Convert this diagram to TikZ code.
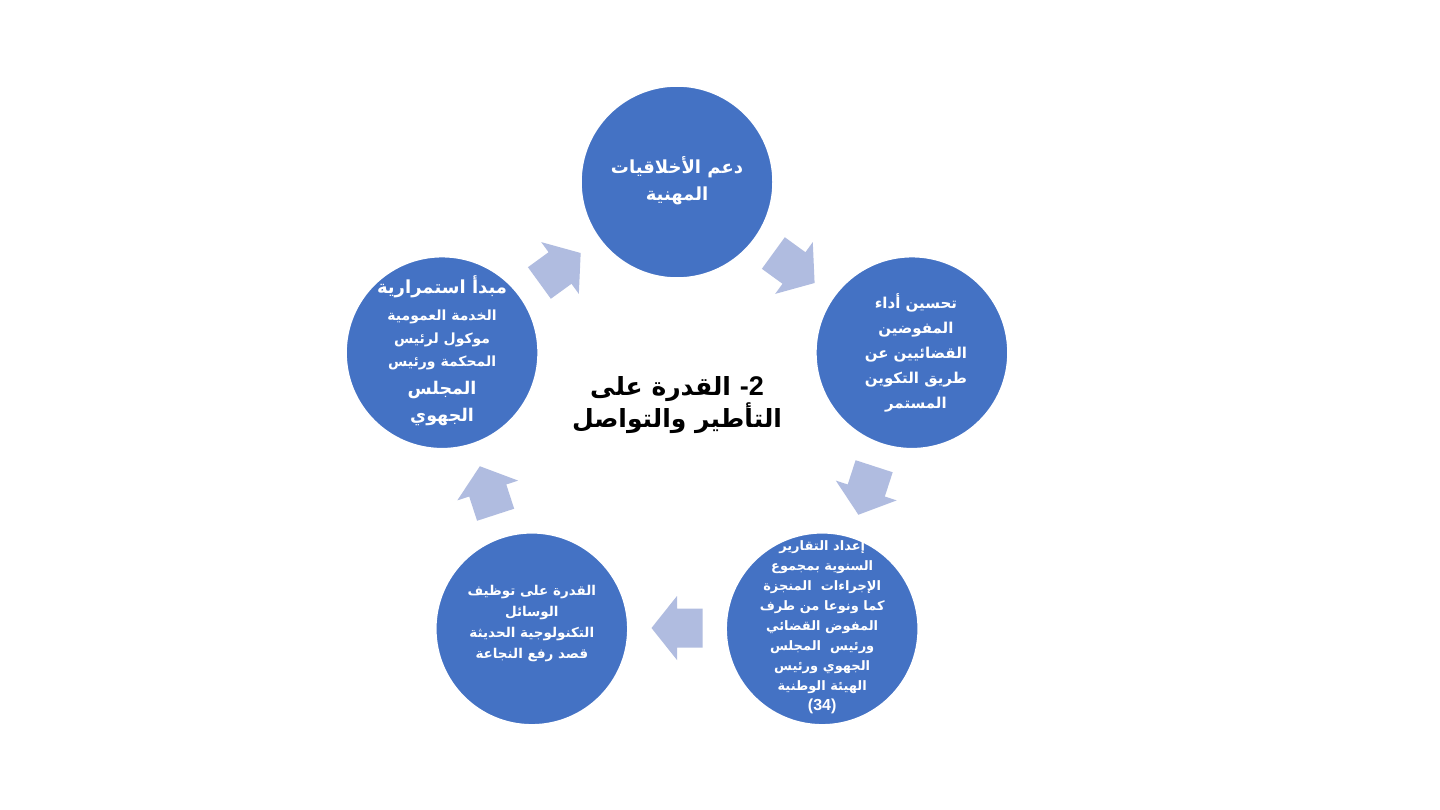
\documentclass[tikz,border=0pt]{standalone}
\usepackage{fontspec}
\TeXXeTstate=1
\setmainfont{Liberation Sans}
\newfontfamily\arfont[Script=Arabic]{DejaVu Sans}
\newfontfamily\latfont{Liberation Sans}
\newcommand\artxt[1]{\beginR #1\endR}
\definecolor{circblue}{HTML}{4472C4}
\definecolor{arrowc}{RGB}{176,188,224}
\begin{document}
\begin{tikzpicture}[x=1pt,y=1pt,
  circ/.style={circle, fill=circblue, draw=white, line width=1.5pt, minimum size=192pt, inner sep=0pt},
  ctext/.style={text=white, align=center, inner sep=0pt},
  cycarrow/.style={fill=arrowc},
]
\useasboundingbox[fill=white] (0,0) rectangle (1440,-810);
\begin{scope}[shift={(677,-429)}]
\node[circ] (c1) at (90:247) {};
\node[circ] (c2) at (18:247) {};
\node[circ] (c3) at (-54:247) {};
\node[circ] (c4) at (-126:247) {};
\node[circ] (c5) at (162:247) {};
\foreach \a in {54,-18,-90,-162,126}{
  \fill[cycarrow, shift={(\a:199)}, rotate={\a-90}]
    (-25.5,-19.5) -- (0,-19.5) -- (0,-32) -- (25.5,0) -- (0,32) -- (0,19.5) -- (-25.5,19.5) -- cycle;
}
\end{scope}
% texts
\node[ctext, font={\arfont\bfseries\fontsize{18}{27}\selectfont}] (t1) at ([yshift=1pt]c1)
  {\artxt{دعم الأخلاقيات}\\\artxt{المهنية}};
\node[ctext, font={\arfont\bfseries\fontsize{15}{25}\selectfont}] (t2) at ([xshift=4pt]c2)
  {\artxt{تحسين أداء}\\\artxt{المفوضين}\\\artxt{القضائيين عن}\\\artxt{طريق التكوين}\\\artxt{المستمر}};
\node[ctext, font={\arfont\bfseries\fontsize{13}{20}\selectfont}] (t3) at ([yshift=2pt]c3)
  {\artxt{إعداد التقارير}\\\artxt{السنوية بمجموع}\\\artxt{الإجراءات\ \ المنجزة}\\\artxt{كما ونوعا من طرف}\\\artxt{المفوض القضائي}\\\artxt{ورئيس\ \ المجلس}\\\artxt{الجهوي ورئيس}\\\artxt{الهيئة الوطنية}\\{\latfont\bfseries\fontsize{16}{20}\selectfont(34)}};
\node[ctext, font={\arfont\bfseries\fontsize{13.5}{21}\selectfont}] (t4) at ([yshift=5pt]c4)
  {\artxt{القدرة على توظيف}\\\artxt{الوسائل}\\\artxt{التكنولوجية الحديثة}\\\artxt{قصد رفع النجاعة}};
\node[ctext, font={\arfont\bfseries\fontsize{14}{22.5}\selectfont}] (t5) at ([yshift=2pt]c5)
  {{\fontsize{18}{22}\selectfont\artxt{مبدأ استمرارية}}\\[4.5pt]\artxt{الخدمة العمومية}\\[0.5pt]\artxt{موكول لرئيس}\\\artxt{المحكمة ورئيس}\\[5.5pt]{\fontsize{17.5}{22}\selectfont\artxt{المجلس}}\\[4.5pt]{\fontsize{17.5}{22}\selectfont\artxt{الجهوي}}};
\node[align=center, inner sep=0pt, font={\arfont\bfseries\fontsize{25}{32}\selectfont}] (title) at (677,-405)
  {\beginR\beginL{\latfont\bfseries\fontsize{27}{32}\selectfont -2}\endL{} القدرة على\endR\\\artxt{التأطير والتواصل}};
\end{tikzpicture}
\end{document}
